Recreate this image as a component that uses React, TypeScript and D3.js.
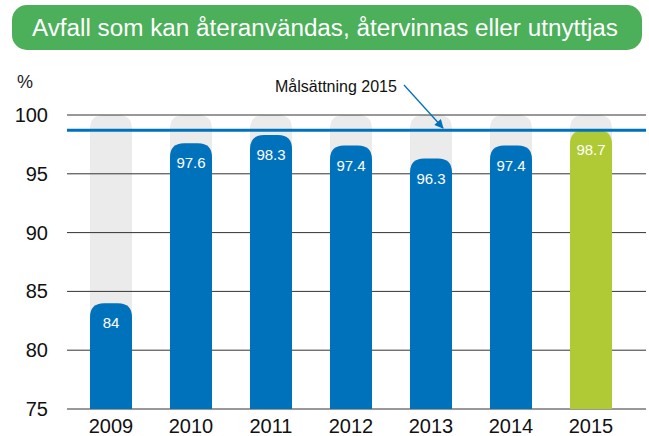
import { useEffect, useRef } from 'react';
import * as d3 from 'd3';

const years = ['2009', '2010', '2011', '2012', '2013', '2014', '2015'];
const values = [84, 97.6, 98.3, 97.4, 96.3, 97.4, 98.7];
const labels = ['84', '97.6', '98.3', '97.4', '96.3', '97.4', '98.7'];
const yTicks = [75, 80, 85, 90, 95, 100];
const target = 98.7;

const title = 'Avfall som kan återanvändas, återvinnas eller utnyttjas';
const targetLabel = 'Målsättning 2015';

// rect with rounded top corners only
const topRounded = (x: number, y: number, w: number, h: number, r: number) => {
  const rr = Math.min(r, h, w / 2);
  return `M${x},${y + h}V${y + rr}Q${x},${y} ${x + rr},${y}H${x + w - rr}Q${x + w},${y} ${x + w},${y + rr}V${y + h}Z`;
};

const App = () => {
  const svgRef = useRef<SVGSVGElement>(null);

  useEffect(() => {
    const width = 649;
    const height = 436;
    const font = 'Liberation Sans, Arial, sans-serif';

    const svg = d3.select(svgRef.current).attr('width', width).attr('height', height);
    svg.selectAll('*').remove();

    const x = d3.scalePoint().domain(years).range([71, 631]).padding(0.5);
    const y = d3.scaleLinear().domain([75, 100]).range([409, 115]);
    const bw = 42;

    // title box
    svg.append('rect').attr('x', 12).attr('y', 5).attr('width', 630).attr('height', 45)
      .attr('rx', 15).attr('fill', '#4caf5a');
    svg.append('text').attr('x', 32).attr('y', 36)
      .attr('textLength', 586).attr('lengthAdjust', 'spacingAndGlyphs')
      .attr('fill', '#fff').style('font-family', font).style('font-size', '23px').text(title);

    svg.append('text').attr('x', 17).attr('y', 88).style('font-family', font)
      .style('font-size', '18px').attr('fill', '#222').text('%');

    // background bars
    svg.append('g').selectAll('path').data(years).join('path')
      .attr('d', (d) => topRounded(x(d)! - bw / 2, y(100), bw, y(75) - y(100), 14))
      .attr('fill', '#ebebeb');

    // gridlines
    svg.append('g').selectAll('line').data(yTicks).join('line')
      .attr('x1', 67).attr('x2', 646).attr('y1', (d) => y(d)).attr('y2', (d) => y(d))
      .attr('stroke', '#333').attr('stroke-width', 1);

    // bars
    svg.append('g').selectAll('path').data(values).join('path')
      .attr('d', (d, i) => topRounded(x(years[i])! - bw / 2, y(d), bw, y(75) - y(d), 14))
      .attr('fill', (d, i) => (i === years.length - 1 ? '#afca35' : '#0072bc'));

    // target line
    svg.append('line').attr('x1', 67).attr('x2', 646).attr('y1', y(target)).attr('y2', y(target))
      .attr('stroke', '#0072bc').attr('stroke-width', 3);

    // value labels
    svg.append('g').selectAll('text').data(values).join('text')
      .attr('x', (d, i) => x(years[i])!).attr('y', (d) => y(d) + 25)
      .attr('text-anchor', 'middle').attr('fill', '#fff')
      .style('font-family', font).style('font-size', '15px')
      .text((d, i) => labels[i]);

    // y tick labels
    svg.append('g').selectAll('text').data(yTicks).join('text')
      .attr('x', 48).attr('y', (d) => y(d) + 7).attr('text-anchor', 'end')
      .attr('fill', '#111').style('font-family', font).style('font-size', '20px')
      .text((d) => d);

    // x labels
    svg.append('g').selectAll('text').data(years).join('text')
      .attr('x', (d) => x(d)!).attr('y', 433).attr('text-anchor', 'middle')
      .attr('fill', '#111').style('font-family', font).style('font-size', '20px')
      .text((d) => d);

    // target annotation
    svg.append('text').attr('x', 275).attr('y', 92).style('font-family', font)
      .style('font-size', '16px').attr('fill', '#111').text(targetLabel);

    const defs = svg.append('defs');
    defs.append('marker').attr('id', 'arr').attr('viewBox', '0 0 10 10').attr('refX', 9).attr('refY', 5)
      .attr('markerWidth', 11).attr('markerHeight', 9).attr('markerUnits', 'userSpaceOnUse')
      .attr('orient', 'auto')
      .append('path').attr('d', 'M0,0L10,5L0,10Z').attr('fill', '#0072bc');
    svg.append('line').attr('x1', 404).attr('y1', 85).attr('x2', 443).attr('y2', 128)
      .attr('stroke', '#0072bc').attr('stroke-width', 1.3).attr('marker-end', 'url(#arr)');
  }, []);

  return (
    <div style={{ position: 'absolute', left: 0, top: 0 }}>
      <svg ref={svgRef}></svg>
    </div>
  );
};

export default App;
